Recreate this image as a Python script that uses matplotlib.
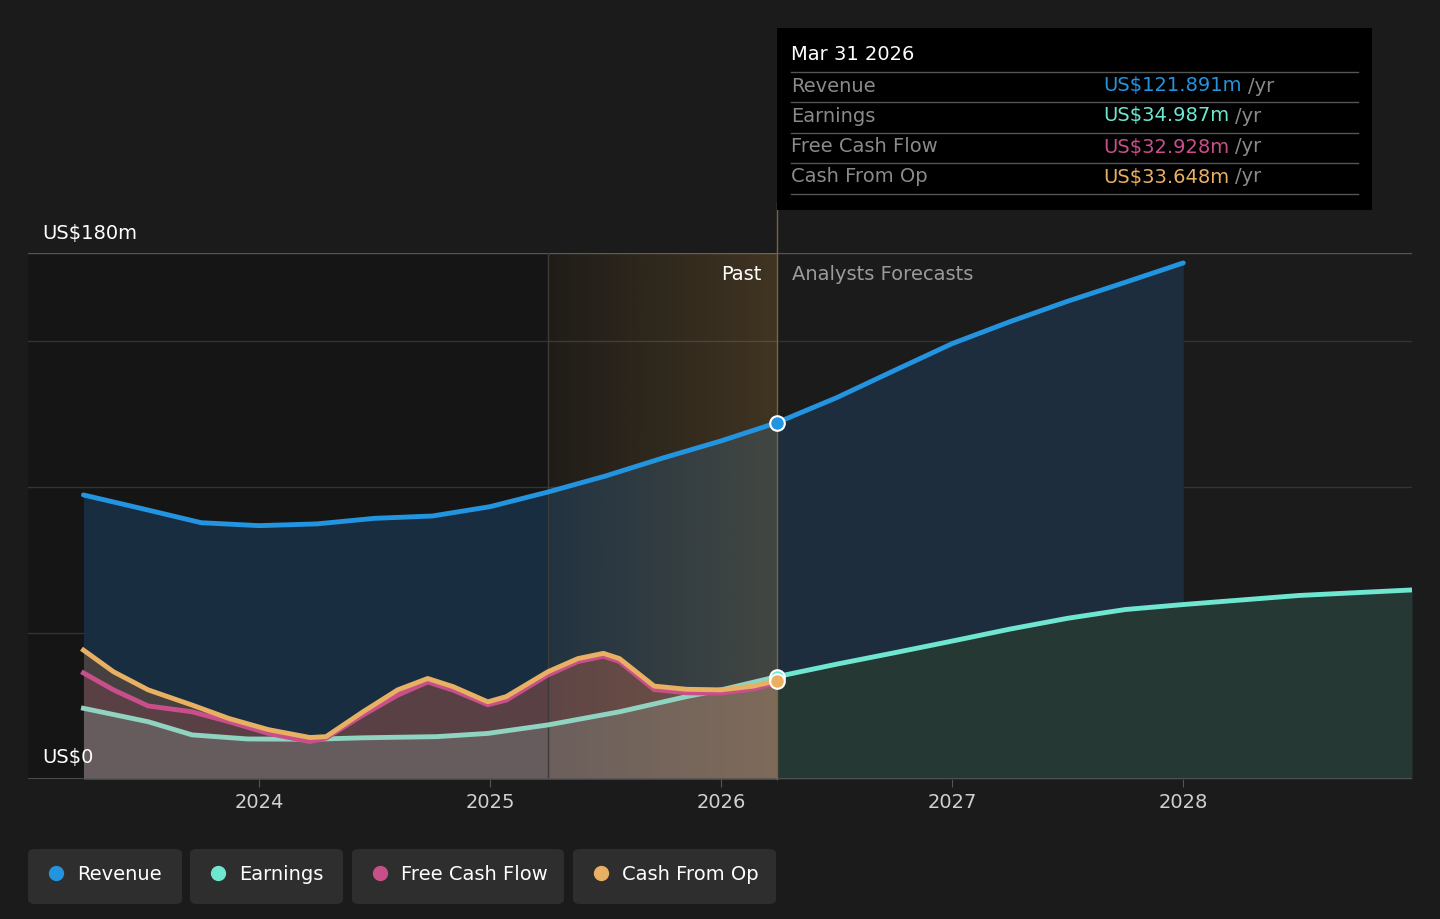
import numpy as np
import matplotlib.pyplot as plt
from matplotlib.patches import FancyBboxPatch, Rectangle

# past data (fractional years)
rev_t = [2023.24, 2023.5, 2023.75, 2024.0, 2024.25, 2024.5, 2024.75, 2025.0,
         2025.25, 2025.5, 2025.75, 2026.0, 2026.24]
revenue_past = [97.2, 92.4, 87.7, 86.7, 87.3, 89.2, 90.0, 93.2, 98.2, 103.7, 109.9, 115.7, 121.9]

earn_t = [2023.24, 2023.52, 2023.71, 2023.95, 2024.23, 2024.45, 2024.77, 2024.99,
          2025.25, 2025.56, 2025.85, 2026.0, 2026.24]
earnings_past = [24.2, 19.6, 15.1, 13.7, 13.6, 14.1, 14.5, 15.6, 18.5, 23.0, 28.2, 30.5, 35.0]

cf_t = [2023.24, 2023.37, 2023.52, 2023.71, 2023.87, 2024.04, 2024.22, 2024.29, 2024.45,
        2024.6, 2024.73, 2024.84, 2024.99, 2025.07, 2025.25, 2025.38, 2025.49, 2025.56,
        2025.71, 2025.85, 2026.0, 2026.14, 2026.24]
cfo_past = [44.1, 36.7, 30.5, 25.3, 20.7, 16.9, 14.2, 14.5, 23.0, 30.5, 34.4, 31.6, 26.4,
            28.2, 36.7, 41.2, 43.0, 41.2, 31.8, 30.7, 30.5, 31.8, 33.6]
fcf_past = [36.3, 30.5, 25.0, 23.0, 19.6, 15.6, 12.8, 14.0, 21.9, 28.7, 33.2, 30.4, 25.4,
            27.0, 35.6, 40.2, 42.0, 40.2, 30.6, 29.5, 29.4, 30.8, 32.9]

# analyst forecasts
rev_fc_t = [2026.24, 2026.5, 2026.75, 2027.0, 2027.25, 2027.5, 2027.75, 2028.0]
revenue_fc = [121.9, 130.5, 139.8, 149.0, 156.5, 163.5, 170.0, 176.6]
earn_fc_t = [2026.24, 2026.5, 2026.75, 2027.0, 2027.25, 2027.5, 2027.75, 2028.0, 2028.5, 2028.99]
earnings_fc = [35.0, 39.3, 43.2, 47.2, 51.3, 55.0, 58.0, 59.7, 62.8, 64.7]

tooltip_rows = [("Revenue", "US$121.891m", "#2394df"),
                ("Earnings", "US$34.987m", "#6ee6d0"),
                ("Free Cash Flow", "US$32.928m", "#c94f8a"),
                ("Cash From Op", "US$33.648m", "#e8b062")]
legend_items = [("Revenue", "#2394df"), ("Earnings", "#6ee6d0"),
                ("Free Cash Flow", "#c94f8a"), ("Cash From Op", "#e8b062")]

BG = "#1b1b1b"
W, H = 1440, 919
fig = plt.figure(figsize=(W / 100, H / 100), dpi=100, facecolor=BG)
ax = fig.add_axes([28 / W, (H - 779) / H, (1412 - 28) / W, (779 - 253) / H])
ax.set_facecolor(BG)
ax.set_xlim(2023.0, 2028.99)
ax.set_ylim(0, 180)

split = 2026.24
# darker past background
ax.axvspan(2023.0, split, color="#151515", zorder=0)

# grid lines
for g in [50, 100, 150]:
    ax.axhline(g, color="#333333", lw=1, zorder=1.5)
ax.axhline(180, color="#555555", lw=1, zorder=1.5)

# fills
ax.fill_between(rev_t, revenue_past, color="#182d40", lw=0, zorder=2)
ax.fill_between(rev_fc_t, revenue_fc, color="#1d2d3d", lw=0, zorder=2)
ax.fill_between(earn_fc_t, earnings_fc, color="#253833", lw=0, zorder=2.1)
ax.fill_between(cf_t, cfo_past, color="#6e5040", alpha=0.55, lw=0, zorder=2.2)
ax.fill_between(cf_t, fcf_past, color="#7a4050", alpha=0.35, lw=0, zorder=2.3)
ax.fill_between(earn_t, earnings_past, color="#707070", alpha=0.6, lw=0, zorder=2.4)

# highlight band with gradient, over the fills
grad = np.zeros((2, 100, 4))
grad[..., 0] = 0.80
grad[..., 1] = 0.60
grad[..., 2] = 0.30
grad[..., 3] = np.linspace(0.06, 0.24, 100)
ax.imshow(grad, extent=[2025.25, split, 0, 180], aspect="auto", zorder=3,
          interpolation="bilinear")
ax.axvline(2025.25, color="#3e3b36", lw=1, zorder=3.1)
ax.plot([split, split], [0, 197.5], color="#7a6540", lw=1, zorder=6, clip_on=False)

# lines
ax.plot(rev_t, revenue_past, color="#2394df", lw=3.5, zorder=4, solid_capstyle="round")
ax.plot(rev_fc_t, revenue_fc, color="#2394df", lw=3.5, zorder=4, solid_capstyle="round")
ax.plot(earn_t, earnings_past, color="#8fd3c0", lw=3.5, zorder=4)
ax.plot(earn_fc_t, earnings_fc, color="#6ee6d0", lw=3.5, zorder=4)
ax.plot(cf_t, fcf_past, color="#c94f8a", lw=3.5, zorder=4.2)
ax.plot(cf_t, cfo_past, color="#e8b062", lw=3.5, zorder=4.3)

# markers at split
ax.scatter([split], [revenue_past[-1]], s=110, color="#2394df", edgecolor="white", lw=1.5, zorder=7)
ax.scatter([split], [earnings_past[-1]], s=110, color="#6ee6d0", edgecolor="white", lw=1.5, zorder=7)
ax.scatter([split], [cfo_past[-1]], s=110, color="#e8b062", edgecolor="white", lw=1.5, zorder=7.1)

# axes styling
for s in ax.spines.values():
    s.set_visible(False)
ax.axhline(0, color="#555555", lw=1.2, zorder=5)
ax.set_yticks([])
ax.set_xticks([2024, 2025, 2026, 2027, 2028])
ax.set_xticklabels(["2024", "2025", "2026", "2027", "2028"], fontsize=14)
ax.tick_params(axis="x", colors="#555555", length=6, pad=4, labelcolor="#d0d0d0")

ax.text(2023.06, 183.3, "US$180m", color="white", fontsize=14, va="bottom", zorder=8)
ax.text(2023.06, 4, "US$0", color="white", fontsize=14, va="bottom", zorder=8)
ax.text(split - 0.065, 172.8, "Past", color="white", fontsize=14, ha="right", va="center", zorder=8)
ax.text(split + 0.065, 172.8, "Analysts Forecasts", color="#9a9a9a", fontsize=14,
        ha="left", va="center", zorder=8)

# tooltip
fig.patches.append(Rectangle((777 / W, (H - 210) / H), (1372 - 777) / W, (210 - 28) / H,
                             transform=fig.transFigure, facecolor="black", edgecolor="none", zorder=10))
fig.text(791 / W, 1 - 55 / H, "Mar 31 2026", color="white", fontsize=14, va="center", zorder=11)
row_y = [86, 116, 147, 177]
fig.canvas.draw()
for (name, val, col), y in zip(tooltip_rows, row_y):
    fig.add_artist(plt.Line2D([791 / W, 1358 / W], [1 - (y - 14) / H] * 2, color="#555555", lw=1, zorder=11))
    fig.text(791 / W, 1 - y / H, name, color="#8a8a8a", fontsize=14, va="center", zorder=11)
    t = fig.text(1103 / W, 1 - y / H, val, color=col, fontsize=14, va="center", zorder=11)
    bb = t.get_window_extent(renderer=fig.canvas.get_renderer())
    fig.text(bb.x1 / W + 6 / W, 1 - y / H, "/yr", color="#8a8a8a", fontsize=14, va="center", zorder=11)
fig.add_artist(plt.Line2D([791 / W, 1358 / W], [1 - 194 / H] * 2, color="#555555", lw=1, zorder=11))

# legend boxes
boxes = [(28, 182), (190, 343), (352, 564), (573, 776)]
for (label, col), (x0, x1) in zip(legend_items, boxes):
    fig.patches.append(FancyBboxPatch((x0 / W, (H - 904) / H), (x1 - x0) / W, 55 / H,
                                      boxstyle="round,pad=0,rounding_size=0.005",
                                      transform=fig.transFigure, facecolor="#2e2e2e",
                                      edgecolor="none", zorder=3))
    fig.add_artist(plt.Line2D([(x0 + 28) / W], [1 - 873 / H], marker="o", markersize=10,
                              color=col, lw=0, zorder=4))
    fig.text((x0 + 49) / W, 1 - 874 / H, label, color="white", fontsize=14, va="center", zorder=5)

fig.savefig("out.png", dpi=100, facecolor=BG)
